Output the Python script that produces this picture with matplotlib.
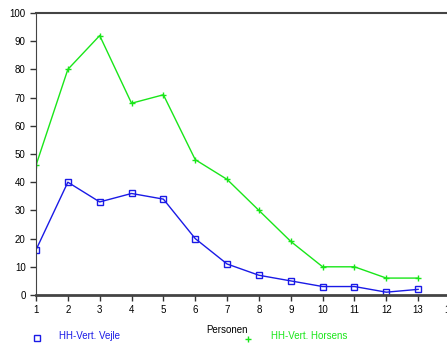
import matplotlib
matplotlib.use("Agg")
import matplotlib.pyplot as plt
from matplotlib.lines import Line2D

personen = [1, 2, 3, 4, 5, 6, 7, 8, 9, 10, 11, 12, 13]
vejle = [16, 40, 33, 36, 34, 20, 11, 7, 5, 3, 3, 1, 2]
horsens = [46, 80, 92, 68, 71, 48, 41, 30, 19, 10, 10, 6, 6]

blue = "#1a1ae6"
green = "#19e619"

plt.rcParams['font.family'] = ['Liberation Sans', 'DejaVu Sans']

fig = plt.figure(figsize=(4.47, 3.47), dpi=100)
ax = fig.add_axes([36 / 447, 52 / 347, 414 / 447, 282 / 347])

ax.plot(personen, vejle, color=blue, lw=1, marker="s", ms=5,
        mfc="none", mec=blue, mew=1)
ax.plot(personen, horsens, color=green, lw=1, marker="+", ms=5,
        mec=green, mew=1)

ax.set_xlim(1, 14)
ax.set_ylim(0, 100)
ax.set_xticks(range(1, 15))
ax.set_yticks(range(0, 101, 10))
ax.tick_params(labelsize=7, length=4, width=1, color="#333333")
ax.spines['right'].set_visible(False)
for s in ['left', 'bottom', 'top']:
    ax.spines[s].set_color("#444444")
ax.spines['bottom'].set_linewidth(2)
ax.spines['top'].set_linewidth(1.5)

# legend row along the bottom
fig.text(227 / 447, 1 - 330 / 347, "Personen", fontsize=7, ha="center", va="center")
fig.add_artist(Line2D([37 / 447], [1 - 338 / 347], marker="s", ms=4,
                      mfc="none", mec=blue, mew=1, transform=fig.transFigure))
fig.text(59 / 447, 1 - 336 / 347, "HH-Vert. Vejle", fontsize=7, color=blue, va="center")
fig.add_artist(Line2D([248 / 447], [1 - 339 / 347], marker="+", ms=5,
                      mec=green, mew=1, transform=fig.transFigure))
fig.text(271 / 447, 1 - 336 / 347, "HH-Vert. Horsens", fontsize=7, color=green, va="center")

fig.savefig("out.png", dpi=100)
